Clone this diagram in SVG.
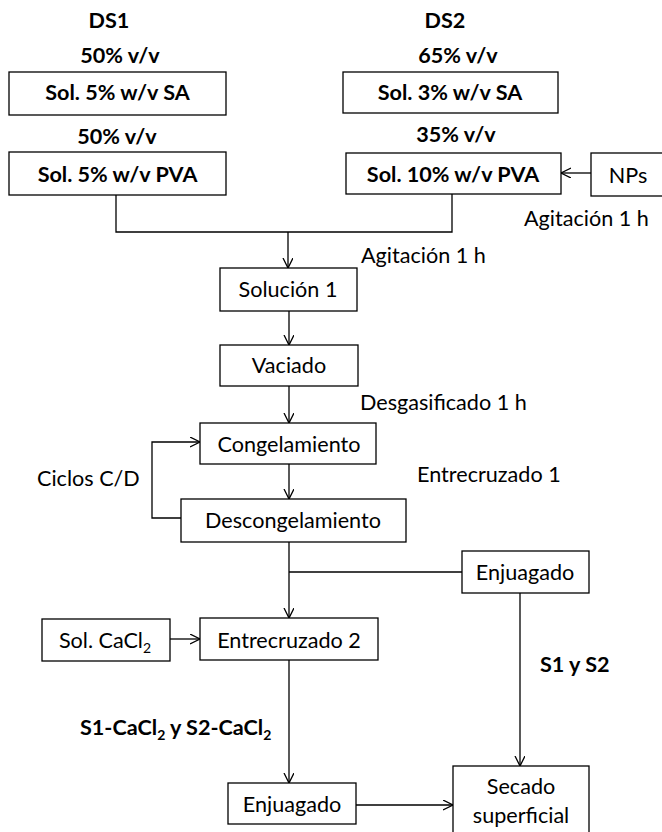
<svg xmlns="http://www.w3.org/2000/svg" width="662" height="832" viewBox="0 0 662 832">
  <style>
    .box { fill: #fff; stroke: #000; stroke-width: 1.3; }
    .ln { fill: none; stroke: #000; stroke-width: 1.3; }
    .arr { fill: none; stroke: #000; stroke-width: 1.3; marker-end: url(#head); }
    text { font-family: Lato, "Noto Sans", "Liberation Sans", sans-serif; font-size: 21.6px; fill: #000; }
    .b { font-weight: bold; }
    .c { text-anchor: middle; }
    .sub { font-size: 14px; }
  </style>
  <defs>
    <marker id="head" markerUnits="userSpaceOnUse" markerWidth="12" markerHeight="12" refX="10" refY="5" orient="auto">
      <path d="M0,0 L10,5 L0,10" fill="none" stroke="#000" stroke-width="1.3"/>
    </marker>
  </defs>

  <rect width="662" height="832" fill="#fff"/>

  <!-- column headings and volume fractions -->
  <g id="labels-top">
    <text class="b c" x="109" y="28">DS1</text>
    <text class="b c" x="120" y="63">50% v/v</text>
    <text class="b c" x="117" y="144">50% v/v</text>
    <text class="b c" x="445" y="28">DS2</text>
    <text class="b c" x="458" y="63">65% v/v</text>
    <text class="b c" x="456" y="142">35% v/v</text>
  </g>

  <!-- connectors -->
  <g id="connectors">
    <path class="ln" d="M116,195 V232 H452 V194"/>
    <path class="arr" d="M288,232 V268"/>
    <path class="arr" d="M591,173 H561"/>
    <path class="arr" d="M289,311 V345"/>
    <path class="arr" d="M289,386 V423"/>
    <path class="arr" d="M289,464 V499"/>
    <path class="arr" d="M181,518 H152 V442 H200"/>
    <path class="arr" d="M289,542 V618"/>
    <path class="ln" d="M289,572 H462"/>
    <path class="arr" d="M520,593 V766"/>
    <path class="arr" d="M170,639 H200"/>
    <path class="arr" d="M289,660 V783"/>
    <path class="arr" d="M356,805 H453"/>
  </g>

  <g id="sa1">
    <rect class="box" x="9" y="72" width="217" height="43"/>
    <text class="b c" x="117.5" y="100">Sol. 5% w/v SA</text>
  </g>
  <g id="pva1">
    <rect class="box" x="9" y="152" width="217" height="43"/>
    <text class="b c" x="117.5" y="182">Sol. 5% w/v PVA</text>
  </g>
  <g id="sa2">
    <rect class="box" x="343" y="72" width="215" height="41"/>
    <text class="b c" x="450" y="100">Sol. 3% w/v SA</text>
  </g>
  <g id="pva2">
    <rect class="box" x="346" y="153" width="215" height="41"/>
    <text class="b c" x="453" y="182">Sol. 10% w/v PVA</text>
  </g>
  <g id="nps">
    <rect class="box" x="591" y="153" width="80" height="43"/>
    <text class="c" x="628" y="183">NPs</text>
  </g>
  <g id="solucion1">
    <rect class="box" x="220" y="268" width="137" height="43"/>
    <text class="c" x="288" y="297">Solución 1</text>
  </g>
  <g id="vaciado">
    <rect class="box" x="220" y="345" width="138" height="41"/>
    <text class="c" x="289" y="373">Vaciado</text>
  </g>
  <g id="congelamiento">
    <rect class="box" x="200" y="423" width="176" height="41"/>
    <text class="c" x="289" y="452">Congelamiento</text>
  </g>
  <g id="descongelamiento">
    <rect class="box" x="181" y="499" width="225" height="43"/>
    <text class="c" x="293" y="528">Descongelamiento</text>
  </g>
  <g id="enjuagado1">
    <rect class="box" x="462" y="551" width="127" height="42"/>
    <text class="c" x="525" y="580">Enjuagado</text>
  </g>
  <g id="solcacl2">
    <rect class="box" x="42" y="619" width="128" height="42"/>
    <text class="c" x="105" y="648">Sol. CaCl<tspan class="sub" dy="5">2</tspan></text>
  </g>
  <g id="entrecruzado2">
    <rect class="box" x="200" y="618" width="178" height="42"/>
    <text class="c" x="289" y="648">Entrecruzado 2</text>
  </g>
  <g id="enjuagado2">
    <rect class="box" x="228" y="783" width="128" height="41"/>
    <text class="c" x="292" y="812">Enjuagado</text>
  </g>
  <g id="secado">
    <rect class="box" x="453" y="766" width="136" height="80"/>
    <text class="c" x="521" y="794">Secado</text>
    <text class="c" x="521" y="823">superficial</text>
  </g>

  <!-- step annotations -->
  <g id="annotations">
    <text x="524" y="226">Agitación 1 h</text>
    <text x="361" y="263">Agitación 1 h</text>
    <text x="360" y="410">Desgasificado 1 h</text>
    <text x="37" y="486">Ciclos C/D</text>
    <text x="417" y="482">Entrecruzado 1</text>
    <text class="b" x="540" y="672">S1 y S2</text>
    <text class="b" x="80" y="735">S1-CaCl<tspan class="sub" dy="5">2</tspan><tspan dy="-5"> y S2-CaCl</tspan><tspan class="sub" dy="5">2</tspan></text>
  </g>
</svg>
